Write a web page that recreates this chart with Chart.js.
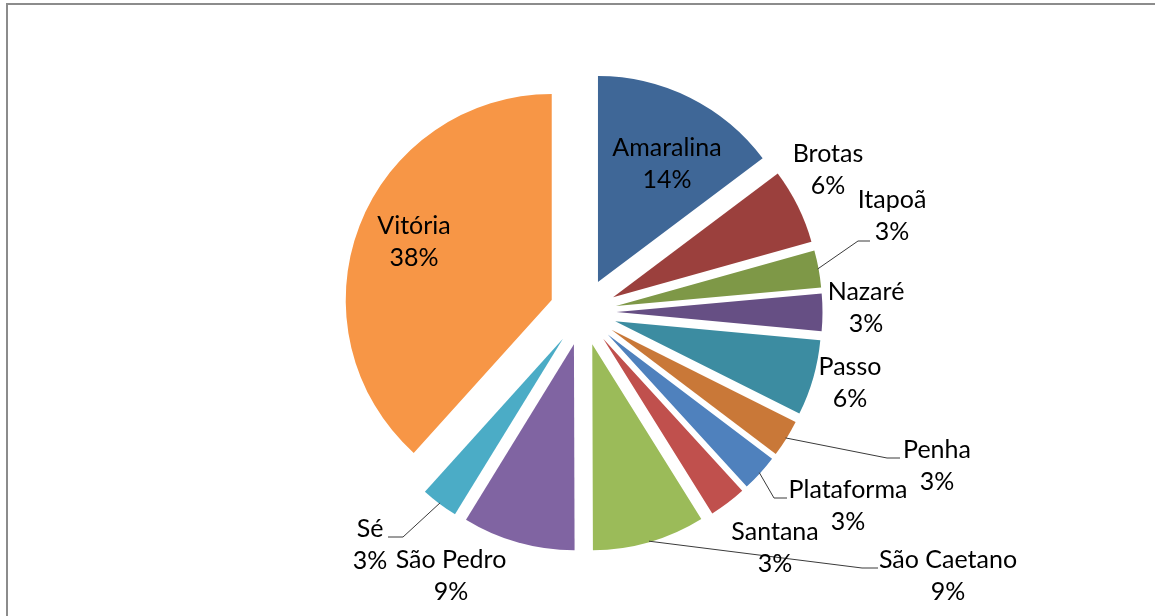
<!DOCTYPE html>
<html><head><meta charset="utf-8">
<script src="https://cdn.jsdelivr.net/npm/chart.js@4"></script>
<style>
html,body{margin:0;padding:0;background:#fff;}
#wrap{position:relative;width:1155px;height:616px;overflow:hidden;background:#fff;}
#frame{position:absolute;left:6px;top:3px;width:1300px;height:800px;border-top:2px solid #8c8c8c;border-left:2px solid #8c8c8c;box-sizing:border-box;}
canvas{position:absolute;left:0;top:0;}
</style></head><body>
<div id="wrap"><div id="frame"></div><canvas id="c" width="1155" height="616"></canvas></div>
<script>
// ---- data ----
const categories = ['Amaralina','Brotas','Itapoã','Nazaré','Passo','Penha','Plataforma','Santana','São Caetano','São Pedro','Sé','Vitória'];
const shares = [14.7, 5.9, 2.9, 2.9, 5.9, 2.9, 2.9, 2.9, 8.8, 8.8, 2.9, 38.2];
const percentLabels = ['14%','6%','3%','3%','6%','3%','3%','3%','9%','9%','3%','38%'];

// ---- styles / layout ----
const sliceColors = ['#3F6797','#9B403D','#7E9847','#664F84','#3C8CA1','#C97838','#4F81BD','#C0504D','#9BBB59','#8064A2','#4BACC6','#F79646'];
const PIE_R = 206;
const EXPLODE = 134; // Chart.js translates each slice by offset/4
// label anchor relative to pie centre: [dx of text centre, dy of first baseline]
const labelPos = [[84,-156],[245,-150],[309,-104],[283,-12],[267,63],[354,146],[265,186],[192,228],[365,256],[-132,256],[-213,225],[-169,-78]];
// leader lines: [bend, end] relative to pie centre (null = none)
const leaders = [null,null,[[275,-71],[287,-71]],null,null,[[304,146],[317,146]],[[191,186],[204,186]],null,[[279,256],[295,256]],null,[[-180,225],[-195,225]],null];
const LINE_H = 31.5;
const FONT = '25px Lato';

// Chart.js enlarges the radius and narrows the angle of offset arcs;
// undo that so every exploded slice keeps the true radius and angle.
const keepGeometry = {
  id:'keepGeometry',
  beforeDatasetsDraw(chart){
    chart.getDatasetMeta(0).data.forEach(el=>{
      if(el.$origStart === undefined){ el.$origStart = el.startAngle; el.$origEnd = el.endAngle; }
      const off = (el.options.offset||0)/4;
      const fix = 1 - Math.sin(Math.min(Math.PI, el.circumference||0));
      const ro = off*fix;
      el.outerRadius = PIE_R - ro;
      const widen = ro/(Math.PI*PIE_R)/2;
      el.startAngle = el.$origStart - widen;
      el.endAngle = el.$origEnd + widen;
    });
  }
};

const labelsPlugin = {
  id:'sliceLabels',
  afterDatasetsDraw(chart){
    const ctx = chart.ctx;
    const arcs = chart.getDatasetMeta(0).data;
    const cx = arcs[0].x, cy = arcs[0].y;
    ctx.save();
    ctx.strokeStyle = '#3a3a3a';
    ctx.lineWidth = 1;
    arcs.forEach((el,i)=>{
      const L = leaders[i];
      if(!L) return;
      const mid = (el.startAngle+el.endAngle)/2;
      const off = (el.options.offset||0)/4;
      const sx = cx + Math.cos(mid)*(off+PIE_R-1);
      const sy = cy + Math.sin(mid)*(off+PIE_R-1);
      ctx.beginPath();
      ctx.moveTo(sx,sy);
      ctx.lineTo(cx+L[0][0], cy+L[0][1]);
      ctx.lineTo(cx+L[1][0], cy+L[1][1]);
      ctx.stroke();
    });
    ctx.fillStyle = '#000';
    ctx.font = FONT;
    ctx.textAlign = 'center';
    ctx.textBaseline = 'alphabetic';
    arcs.forEach((el,i)=>{
      const p = labelPos[i];
      ctx.fillText(categories[i], cx+p[0], cy+p[1]);
      ctx.fillText(percentLabels[i], cx+p[0], cy+p[1]+LINE_H);
    });
    ctx.restore();
  }
};

new Chart(document.getElementById('c'), {
  type:'pie',
  data:{
    labels: categories,
    datasets:[{
      data: shares,
      backgroundColor: sliceColors,
      borderWidth: 0,
      offset: EXPLODE,
      radius: PIE_R
    }]
  },
  options:{
    responsive:false,
    animation:false,
    events:[],
    radius: PIE_R,
    layout:{padding:{left:11,top:8,right:0,bottom:0}},
    plugins:{legend:{display:false},tooltip:{enabled:false}}
  },
  plugins:[keepGeometry, labelsPlugin]
});
</script>
</body></html>
